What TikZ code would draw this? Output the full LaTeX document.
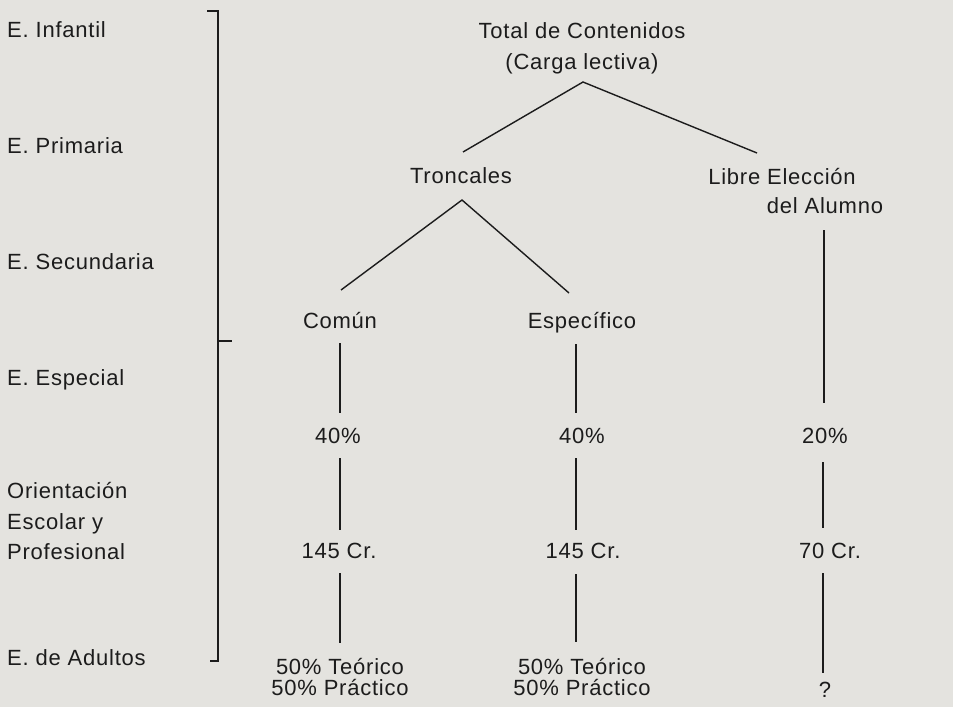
\documentclass[tikz,border=0pt]{standalone}
\usepackage{fontspec}
\setmainfont{Liberation Sans}[LetterSpace=3.5]
\definecolor{paper}{RGB}{228,227,223}
\definecolor{ink}{RGB}{28,28,28}
\begin{document}
\begin{tikzpicture}[x=1pt,y=-1pt,
  every node/.style={font=\fontsize{22}{31}\selectfont, text=ink, inner sep=0pt},
  lbl/.style={anchor=base west},
  txt/.style={anchor=base},
  ln/.style={draw=ink, line width=1.4pt}]
\fill[paper] (0,0) rectangle (953,707);
\useasboundingbox (0,0) rectangle (953,707);
% left labels
\node[lbl] (inf) at (7,37) {E. Infantil};
\node[lbl] (pri) at (7,153) {E. Primaria};
\node[lbl] (sec) at (7,269) {E. Secundaria};
\node[lbl] (esp) at (7,385) {E. Especial};
\node[lbl] (ori1) at (7,498) {Orientación};
\node[lbl] (ori2) at (7,529) {Escolar y};
\node[lbl] (ori3) at (7,559) {Profesional};
\node[lbl] (adu) at (7,665) {E. de Adultos};
% bracket
\coordinate (bt) at (218,11);
\coordinate (bb) at (218,661);
\coordinate (btl) at (207,11);
\coordinate (bbl) at (210,661);
\coordinate (bm) at (218,341);
\coordinate (bmr) at (232,341);
\draw[ln] (btl) -- (bt) -- (bb) -- (bbl);
\draw[ln] (bm) -- (bmr);
% tree texts
\node[txt] (tot1) at (582,38) {Total de Contenidos};
\node[txt] (tot2) at (582,69) {(Carga lectiva)};
\node[txt] (tro) at (461,183) {Troncales};
\node[txt] (lib1) at (782,184) {Libre Elección};
\node[txt] (lib2) at (825,213) {del Alumno};
\node[txt] (com) at (340,328) {Común};
\node[txt] (spe) at (582,328) {Específico};
\node[txt] (p1) at (338,443) {40\%};
\node[txt] (p2) at (582,443) {40\%};
\node[txt] (p3) at (825,443) {20\%};
\node[txt] (c1) at (339,558) {145 Cr.};
\node[txt] (c2) at (583,558) {145 Cr.};
\node[txt] (c3) at (830,558) {70 Cr.};
\node[txt] (t1) at (340,674) {50\% Teórico};
\node[txt] (pr1) at (340,695) {50\% Práctico};
\node[txt] (t2) at (582,674) {50\% Teórico};
\node[txt] (pr2) at (582,695) {50\% Práctico};
\node[txt] (q) at (825,697) {?};
% connectors
\coordinate (totA) at (583,82);
\coordinate (troT) at (463,152);
\coordinate (libT) at (757,153);
\coordinate (troA) at (462,200);
\coordinate (comT) at (341,290);
\coordinate (speT) at (569,293);
\draw[ln] (troT) -- (totA) -- (libT);
\draw[ln] (comT) -- (troA) -- (speT);
% vertical lines
\draw[ln] (340,343) -- (340,413);
\draw[ln] (576,344) -- (576,413);
\draw[ln] (824,230) -- (824,403);
\draw[ln] (340,458) -- (340,530);
\draw[ln] (576,458) -- (576,530);
\draw[ln] (823,462) -- (823,528);
\draw[ln] (340,573) -- (340,643);
\draw[ln] (576,574) -- (576,642);
\draw[ln] (823,573) -- (823,673);
\end{tikzpicture}
\end{document}
